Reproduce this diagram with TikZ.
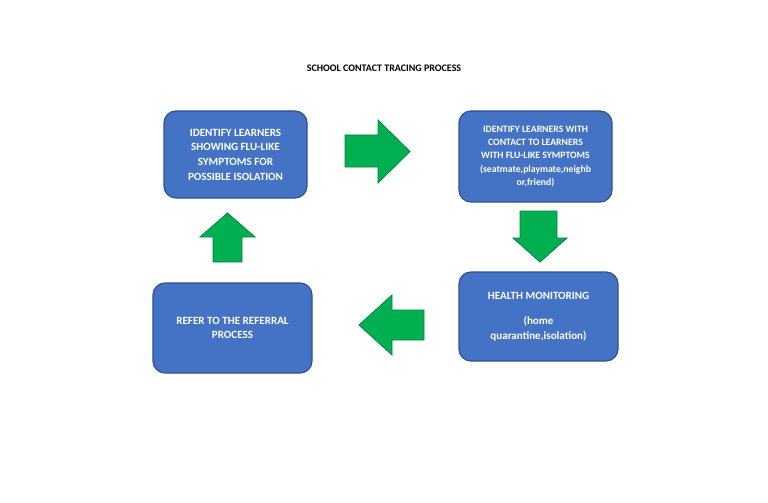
\documentclass[tikz,border=0pt]{standalone}
\usepackage{fontspec}
\setmainfont{Carlito}
\begin{document}
\begin{tikzpicture}[x=0.75pt,y=-0.75pt,
  box/.style={draw=boxedge,line width=0.9pt,fill=boxfill,rounded corners=9pt,text=white,font=\bfseries\fontsize{8.3}{11}\selectfont,align=center,inner sep=2pt},
  arr/.style={draw=arredge,line width=0.6pt,fill=arrfill}]
\definecolor{boxfill}{HTML}{4472C4}
\definecolor{boxedge}{HTML}{2F528F}
\definecolor{arrfill}{HTML}{00B050}
\definecolor{arredge}{HTML}{00853C}
\fill[white] (0,0) rectangle (768,503);
\node[font=\bfseries\fontsize{7.5}{9}\selectfont] (title) at (384,68) {SCHOOL CONTACT TRACING PROCESS};
\node[box,minimum width=143*0.75pt,minimum height=87*0.75pt] (b1) at (235.5,154.5) {IDENTIFY LEARNERS\\SHOWING FLU-LIKE\\SYMPTOMS FOR\\POSSIBLE ISOLATION};
\node[box,minimum width=153*0.75pt,minimum height=91*0.75pt,font=\bfseries\fontsize{7.3}{10}\selectfont] (b2) at (535.5,156.5) {IDENTIFY LEARNERS WITH\\CONTACT TO LEARNERS\\WITH FLU-LIKE SYMPTOMS\\(seatmate,playmate,neighb\\or,friend)};
\node[box,minimum width=159*0.75pt,minimum height=89*0.75pt] (b3) at (538.5,316.5) {HEALTH MONITORING\\[8pt]{\mdseries\bfseries (home}\\quarantine,isolation)};
\node[box,minimum width=159*0.75pt,minimum height=90*0.75pt] (b4) at (232.5,328) {REFER TO THE REFERRAL\\PROCESS};
% right arrow
\draw[arr] (345,135) -- (378,135) -- (378,120) -- (410,151.5) -- (378,183) -- (378,167) -- (345,167) -- cycle;
% down arrow
\draw[arr] (520,211) -- (557,211) -- (557,238) -- (567,238) -- (540,262) -- (513,238) -- (520,238) -- cycle;
% left arrow
\draw[arr] (424,310) -- (392,310) -- (392,295) -- (359,325) -- (392,355) -- (392,340) -- (424,340) -- cycle;
% up arrow
\draw[arr] (213,262) -- (242,262) -- (242,237) -- (255,237) -- (227.5,213) -- (200,237) -- (213,237) -- cycle;
\end{tikzpicture}
\end{document}
